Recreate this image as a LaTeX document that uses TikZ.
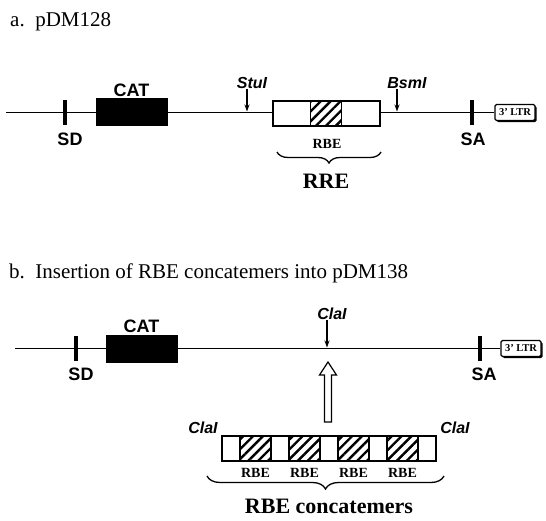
\documentclass[tikz,border=0pt]{standalone}
\usepackage{fontspec}
\setmainfont{Liberation Serif}
\newfontfamily\arialfam{Liberation Sans}
\usetikzlibrary{arrows.meta,patterns.meta,decorations.pathreplacing,shadows,positioning}
\begin{document}
\begin{tikzpicture}[x=1pt,y=-1pt,
  dna/.style={line width=1.7pt},
  sitemark/.style={line width=3.5pt},
  cutarrow/.style={-{Stealth[length=7pt,width=5pt]},line width=1.1pt,shorten >=1pt},
  gene/.style={draw,fill=black,line width=1pt,minimum width=71pt,minimum height=27pt,inner sep=0pt},
  elem/.style={draw,fill=white,line width=2.2pt,minimum height=25pt,inner sep=0pt},
  rbebox/.style={draw,line width=1.5pt,minimum width=31pt,minimum height=25pt,inner sep=0pt,pattern={Lines[angle=45,distance=7pt,line width=2.4pt]}},
  ltr/.style={draw,fill=white,line width=1.1pt,rounded corners=1.5pt,minimum width=40pt,minimum height=16pt,inner sep=0pt,font=\bfseries\fontsize{10.5}{10.5}\selectfont,drop shadow={shadow xshift=1.6pt,shadow yshift=-1.6pt,fill=black,opacity=1}},
  gl/.style={inner sep=0pt,font=\arialfam\bfseries\fontsize{18}{18}\selectfont},
  sl/.style={inner sep=0pt,font=\arialfam\bfseries\itshape\fontsize{16}{16}\selectfont},
  rl/.style={inner sep=0pt,font=\bfseries\fontsize{14}{14}\selectfont},
  bl/.style={inner sep=0pt,font=\bfseries\fontsize{22}{22}\selectfont},
  ttl/.style={anchor=base west,inner sep=0pt,font=\fontsize{21}{21}\selectfont},
  brc/.style={decorate,decoration={brace,mirror,amplitude=11pt},line width=1.3pt}]
  \useasboundingbox (0,0) rectangle (546,521);
  \node[ttl] (ttlA) at (10,27) {a.\ \ pDM128};
  \coordinate (lA) at (6,112.5);
  \node[ltr] (ltrA) at (515,112.5) {3' LTR};
  \draw[dna] (lA) -- (ltrA.west);
  \draw[sitemark] (65,100) -- (65,125);
  \node[gl] (sdA) at (70,139) {SD};
  \node[gene] (catA) at (131.5,112.5) {};
  \node[gl,above=2pt of catA] (catAl) {CAT};
  \node[elem,minimum width=107pt] (rreA) at (326.5,113.5) {};
  \node[rbebox] (rbeA) at (326,113.5) {};
  \node[rl] (rbeAl) at (327,144) {RBE};
  \draw[brc] (277,152) -- (381,152);
  \node[bl] (rreAl) at (326,181) {RRE};
  \coordinate (stuA) at (247,112.5);
  \node[sl] (stuI) at (252,83) {StuI};
  \draw[cutarrow] (stuI.south -| stuA) -- (stuA);
  \coordinate (bsmA) at (397,112.5);
  \node[sl] (bsmI) at (407,83) {BsmI};
  \draw[cutarrow] (bsmI.south -| bsmA) -- (bsmA);
  \draw[sitemark] (472,100) -- (472,125);
  \node[gl] (saA) at (473,139) {SA};

  \node[ttl] (ttlB) at (9,279) {b.\ \ Insertion of RBE concatemers into pDM138};
  \coordinate (lB) at (15,348.5);
  \node[ltr] (ltrB) at (521,348.5) {3' LTR};
  \draw[dna] (lB) -- (ltrB.west);
  \draw[sitemark] (76,336) -- (76,361);
  \node[gl] (sdB) at (81,374) {SD};
  \node[gene] (catB) at (141.5,348.5) {};
  \node[gl,above=2pt of catB] (catBl) {CAT};
  \coordinate (claB) at (327,348.5);
  \node[sl] (claI) at (332,314) {ClaI};
  \draw[cutarrow] (claI.south -| claB) -- (claB);
  \draw[sitemark] (480,336) -- (480,361);
  \node[gl] (saB) at (484,374) {SA};
  \coordinate (insT) at (328,362);
  \coordinate (insB) at (328,422);
  \draw[line width=1.2pt,fill=white] ([xshift=-3.5pt]insB) -- ([xshift=-3.5pt,yshift=-13pt]insT) -- ([xshift=-8.5pt,yshift=-13pt]insT) -- (insT) -- ([xshift=8.5pt,yshift=-13pt]insT) -- ([xshift=3.5pt,yshift=-13pt]insT) -- ([xshift=3.5pt]insB) -- cycle;
  \node[elem,minimum width=214pt] (conc) at (329,448.5) {};
  \foreach \i in {0,...,3} {
    \node[rbebox] (rbe\i) at (255.5+49*\i,448.5) {};
    \node[rl,below=6pt of rbe\i] (rbe\i l) {RBE};
  }
  \node[sl] (claL) at (203,428) {ClaI};
  \node[sl] (claR) at (455,428) {ClaI};
  \draw[brc,decoration={amplitude=13pt}] (207,476) -- (444,476);
  \node[bl] (concl) at (329,506) {RBE concatemers};
\end{tikzpicture}
\end{document}
